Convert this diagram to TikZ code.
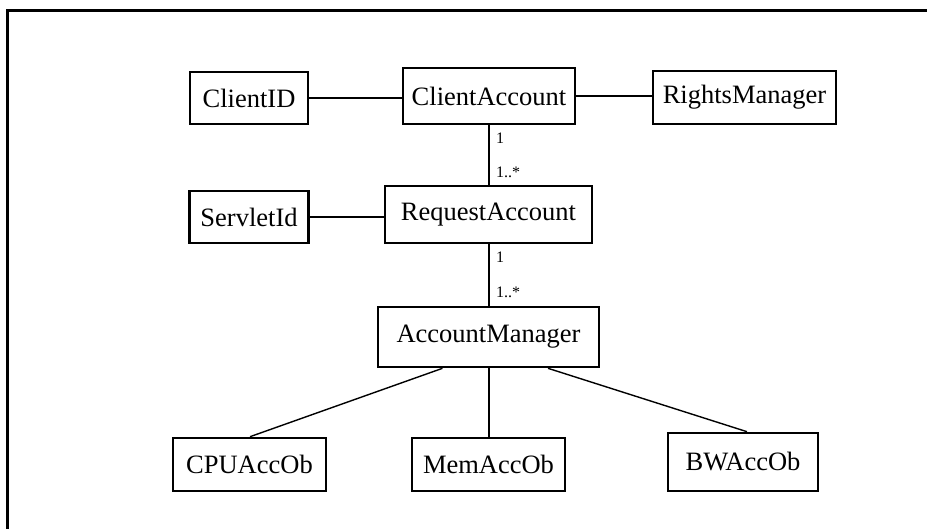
\documentclass[tikz,border=0pt]{standalone}
\usepackage{fontspec}
\setmainfont{Liberation Serif}
\usetikzlibrary{calc}
\begin{document}
\begin{tikzpicture}[x=1pt,y=-1pt,
  cls/.style={draw, line width=2.6pt, inner sep=0pt, font=\fontsize{26.5}{31}\selectfont},
  link/.style={line width=2pt},
  diag/.style={line width=1.4pt},
  mult/.style={inner sep=0pt, anchor=base west, font=\fontsize{16}{19}\selectfont}]
\useasboundingbox (0,0) rectangle (927,528);
\draw[line width=3pt] (7.5,540) -- (7.5,10.5) -- (940,10.5);
\node[cls, minimum width=118pt, minimum height=52pt] (cid) at (249,98) {ClientID};
\node[cls, minimum width=172pt, minimum height=56pt] (ca) at (489,96) {ClientAccount};
\node[cls, minimum width=183pt, minimum height=53pt] (rm) at (744.5,97.5) {RightsManager};
\node[cls, minimum width=119pt, minimum height=52pt] (sid) at (249,217) {ServletId};
\node[cls, minimum width=207pt, minimum height=57pt] (ra) at (488.5,214.5) {RequestAccount};
\node[cls, minimum width=221pt, minimum height=60pt] (am) at (488.5,337) {AccountManager};
\node[cls, minimum width=153pt, minimum height=53pt] (cpu) at (249.5,464.5) {CPUAccOb};
\node[cls, minimum width=153pt, minimum height=53pt] (mem) at (488.5,464.5) {MemAccOb};
\node[cls, minimum width=150pt, minimum height=58pt] (bw) at (743,462) {BWAccOb};
\draw[link] (cid.east) -- (cid.east -| ca.west);
\draw[link] (ca.east) -- (ca.east -| rm.west);
\draw[link] (sid.east) -- (sid.east -| ra.west);
\draw[link] (ca.south) -- (ca.south |- ra.north);
\draw[link] (ra.south) -- (ra.south |- am.north);
\draw[link] (am.south) -- (am.south |- mem.north);
\draw[diag] ($(am.south)+(-46,0)$) -- ($(cpu.north)+(0.5,0)$);
\draw[diag] ($(am.south)+(59.5,0)$) -- ($(bw.north)+(4,0)$);
\node[mult] (m1) at (496,143) {1};
\node[mult] (m2) at (496,177) {1..*};
\node[mult] (m3) at (496,262) {1};
\node[mult] (m4) at (496,297) {1..*};
\end{tikzpicture}
\end{document}
